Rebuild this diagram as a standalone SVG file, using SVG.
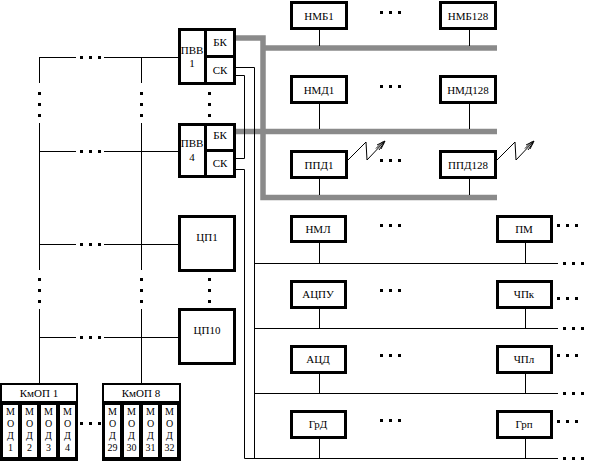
<svg xmlns="http://www.w3.org/2000/svg" width="590" height="468" viewBox="0 0 590 468">
<style>
.box{fill:#fff;stroke:#000;stroke-width:3}
.ln{stroke:#000;stroke-width:1;fill:none}
.bus{stroke:#8a8a8a;stroke-width:5.5;fill:none}
text{font-family:"Liberation Serif",serif;font-size:11px;fill:#000;text-anchor:middle}
.sm{font-size:10px}
</style>
<defs>
<rect id="d" width="3" height="3" fill="#000"/>
</defs>
<rect width="590" height="468" fill="#fff"/>

<g id="connectors">
<!-- gray buses -->
<path class="bus" d="M236,38 H263 V197.5 H497"/>
<path class="bus" d="M263,48 H497"/>
<path class="bus" d="M236,131.5 H497"/>
<!-- left lines -->
<path class="ln" d="M39.5,57 V83 M39.5,123 V270 M39.5,309 V383"/>
<path class="ln" d="M141.5,57 V83 M141.5,123 V270 M141.5,309 V383"/>
<path class="ln" d="M39.5,57.5 H76 M104,57.5 H178"/>
<path class="ln" d="M39.5,151.5 H76 M104,151.5 H178"/>
<path class="ln" d="M39.5,244.5 H76 M104,244.5 H178"/>
<path class="ln" d="M39.5,337.5 H76 M104,337.5 H178"/>
<!-- CK lines -->
<path class="ln" d="M236,67.5 H254.5 V458"/>
<path class="ln" d="M236,75.5 H244.5 V158.5 H236"/>
<path class="ln" d="M236,169.5 H244.5 V458.5 H558"/>
<path class="ln" d="M254.5,263.5 H558 M254.5,328.5 H558 M254.5,393.5 H558"/>
<!-- top connectors -->
<path class="ln" d="M319.5,30 V46 M469.5,30 V46 M319.5,104 V129 M469.5,104 V129 M319.5,179 V195 M469.5,179 V195"/>
<!-- lower connectors -->
<path class="ln" d="M319.5,243 V263 M525.5,243 V263 M319.5,308 V328 M525.5,308 V328 M319.5,373 V393 M525.5,373 V393 M319.5,439 V458 M525.5,439 V458"/>
<!-- radio links -->
<path class="ln" d="M348,160 L366,142 L367,160 L385,141 M385,141 L377,145 M385,141 L381,149 M383,141.5 L376,148.5 M384,143 L379,150"/>
<path class="ln" d="M497,160 L515,142 L516,160 L534,141 M534,141 L526,145 M534,141 L530,149 M532,141.5 L525,148.5 M533,143 L528,150"/>
</g>

<g id="dots">
<use href="#d" x="80" y="56"/><use href="#d" x="89" y="56"/><use href="#d" x="98" y="56"/>
<use href="#d" x="80" y="150"/><use href="#d" x="89" y="150"/><use href="#d" x="98" y="150"/>
<use href="#d" x="80" y="243"/><use href="#d" x="89" y="243"/><use href="#d" x="98" y="243"/>
<use href="#d" x="80" y="336"/><use href="#d" x="89" y="336"/><use href="#d" x="98" y="336"/>
<use href="#d" x="38" y="92"/><use href="#d" x="38" y="103"/><use href="#d" x="38" y="114"/>
<use href="#d" x="140" y="92"/><use href="#d" x="140" y="103"/><use href="#d" x="140" y="114"/>
<use href="#d" x="208" y="92"/><use href="#d" x="208" y="103"/><use href="#d" x="208" y="114"/>
<use href="#d" x="38" y="278"/><use href="#d" x="38" y="289"/><use href="#d" x="38" y="300"/>
<use href="#d" x="140" y="278"/><use href="#d" x="140" y="289"/><use href="#d" x="140" y="300"/>
<use href="#d" x="208" y="278"/><use href="#d" x="208" y="289"/><use href="#d" x="208" y="300"/>
<use href="#d" x="80" y="422"/><use href="#d" x="89" y="422"/><use href="#d" x="98" y="422"/>
<use href="#d" x="380" y="11"/><use href="#d" x="389" y="11"/><use href="#d" x="398" y="11"/>
<use href="#d" x="380" y="85"/><use href="#d" x="389" y="85"/><use href="#d" x="398" y="85"/>
<use href="#d" x="380" y="159"/><use href="#d" x="389" y="159"/><use href="#d" x="398" y="159"/>
<use href="#d" x="380" y="224"/><use href="#d" x="389" y="224"/><use href="#d" x="398" y="224"/>
<use href="#d" x="380" y="289"/><use href="#d" x="389" y="289"/><use href="#d" x="398" y="289"/>
<use href="#d" x="380" y="354"/><use href="#d" x="389" y="354"/><use href="#d" x="398" y="354"/>
<use href="#d" x="380" y="419"/><use href="#d" x="389" y="419"/><use href="#d" x="398" y="419"/>
<use href="#d" x="557" y="224"/><use href="#d" x="566" y="224"/><use href="#d" x="575" y="224"/>
<use href="#d" x="557" y="297"/><use href="#d" x="566" y="297"/><use href="#d" x="575" y="297"/>
<use href="#d" x="557" y="354"/><use href="#d" x="566" y="354"/><use href="#d" x="575" y="354"/>
<use href="#d" x="557" y="420"/><use href="#d" x="566" y="420"/><use href="#d" x="575" y="420"/>
<use href="#d" x="563" y="262"/><use href="#d" x="572" y="262"/><use href="#d" x="581" y="262"/>
<use href="#d" x="563" y="327"/><use href="#d" x="572" y="327"/><use href="#d" x="581" y="327"/>
<use href="#d" x="563" y="392"/><use href="#d" x="572" y="392"/><use href="#d" x="581" y="392"/>
<use href="#d" x="563" y="457"/><use href="#d" x="572" y="457"/><use href="#d" x="581" y="457"/>
</g>

<g id="pvv1">
<rect class="box" x="179.5" y="29.5" width="26" height="54"/>
<rect class="box" x="205.5" y="29.5" width="29" height="27"/>
<rect class="box" x="205.5" y="56.5" width="29" height="27"/>
<text x="192" y="54">ПВВ</text><text x="192" y="67">1</text>
<text x="220" y="46">БК</text><text x="220" y="74">СК</text>
</g>
<g id="pvv4">
<rect class="box" x="179.5" y="124.5" width="26" height="52"/>
<rect class="box" x="205.5" y="124.5" width="29" height="26"/>
<rect class="box" x="205.5" y="150.5" width="29" height="26"/>
<text x="192" y="147">ПВВ</text><text x="192" y="161">4</text>
<text x="220" y="139">БК</text><text x="220" y="167">СК</text>
</g>
<g id="cp1"><rect class="box" x="179.5" y="216.5" width="55" height="54"/><text x="207" y="241">ЦП1</text></g>
<g id="cp10"><rect class="box" x="179.5" y="309.5" width="55" height="54"/><text x="207" y="334">ЦП10</text></g>

<g id="nmb1"><rect class="box" x="291.5" y="2.5" width="55" height="26"/><text x="319" y="20">НМБ1</text></g>
<g id="nmb128"><rect class="box" x="440.5" y="2.5" width="55" height="26"/><text x="468" y="20">НМБ128</text></g>
<g id="nmd1"><rect class="box" x="291.5" y="76.5" width="55" height="26"/><text x="319" y="94">НМД1</text></g>
<g id="nmd128"><rect class="box" x="440.5" y="76.5" width="55" height="26"/><text x="468" y="94">НМД128</text></g>
<g id="ppd1"><rect class="box" x="291.5" y="151.5" width="55" height="26"/><text x="319" y="169">ППД1</text></g>
<g id="ppd128"><rect class="box" x="440.5" y="151.5" width="55" height="26"/><text x="468" y="169">ППД128</text></g>

<g id="nml"><rect class="box" x="291.5" y="216.5" width="54" height="25"/><text x="318" y="233">НМЛ</text></g>
<g id="pm"><rect class="box" x="497.5" y="216.5" width="54" height="25"/><text x="524" y="233">ПМ</text></g>
<g id="acpu"><rect class="box" x="291.5" y="281.5" width="54" height="26"/><text x="318" y="298">АЦПУ</text></g>
<g id="chpk"><rect class="box" x="497.5" y="281.5" width="54" height="26"/><text x="524" y="298">ЧПк</text></g>
<g id="acd"><rect class="box" x="291.5" y="346.5" width="54" height="26"/><text x="318" y="363">АЦД</text></g>
<g id="chpl"><rect class="box" x="497.5" y="346.5" width="54" height="26"/><text x="524" y="363">ЧПл</text></g>
<g id="grd"><rect class="box" x="291.5" y="411.5" width="54" height="26"/><text x="318" y="428">ГрД</text></g>
<g id="grp"><rect class="box" x="497.5" y="411.5" width="54" height="26"/><text x="524" y="428">Грп</text></g>

<g id="kmop1">
<rect x="0" y="383" width="78" height="78" fill="#000"/>
<rect x="2" y="385" width="74" height="16" fill="#fff"/>
<rect x="3" y="405" width="15" height="52" fill="#fff"/>
<rect x="22" y="405" width="15" height="52" fill="#fff"/>
<rect x="41" y="405" width="15" height="52" fill="#fff"/>
<rect x="60" y="405" width="15" height="52" fill="#fff"/>
<text x="39" y="397">КмОП 1</text>
<text class="sm" x="10.5" y="415">М</text><text class="sm" x="10.5" y="427">О</text><text class="sm" x="10.5" y="439">Д</text><text class="sm" x="10.5" y="451">1</text>
<text class="sm" x="29.5" y="415">М</text><text class="sm" x="29.5" y="427">О</text><text class="sm" x="29.5" y="439">Д</text><text class="sm" x="29.5" y="451">2</text>
<text class="sm" x="48.5" y="415">М</text><text class="sm" x="48.5" y="427">О</text><text class="sm" x="48.5" y="439">Д</text><text class="sm" x="48.5" y="451">3</text>
<text class="sm" x="67.5" y="415">М</text><text class="sm" x="67.5" y="427">О</text><text class="sm" x="67.5" y="439">Д</text><text class="sm" x="67.5" y="451">4</text>
</g>
<g id="kmop8">
<rect x="102" y="383" width="79" height="78" fill="#000"/>
<rect x="104" y="385" width="75" height="16" fill="#fff"/>
<rect x="105" y="405" width="15" height="52" fill="#fff"/>
<rect x="124" y="405" width="15" height="52" fill="#fff"/>
<rect x="143" y="405" width="15" height="52" fill="#fff"/>
<rect x="162" y="405" width="15" height="52" fill="#fff"/>
<text x="141" y="397">КмОП 8</text>
<text class="sm" x="112.5" y="415">М</text><text class="sm" x="112.5" y="427">О</text><text class="sm" x="112.5" y="439">Д</text><text class="sm" x="112.5" y="451">29</text>
<text class="sm" x="131.5" y="415">М</text><text class="sm" x="131.5" y="427">О</text><text class="sm" x="131.5" y="439">Д</text><text class="sm" x="131.5" y="451">30</text>
<text class="sm" x="150.5" y="415">М</text><text class="sm" x="150.5" y="427">О</text><text class="sm" x="150.5" y="439">Д</text><text class="sm" x="150.5" y="451">31</text>
<text class="sm" x="169.5" y="415">М</text><text class="sm" x="169.5" y="427">О</text><text class="sm" x="169.5" y="439">Д</text><text class="sm" x="169.5" y="451">32</text>
</g>
</svg>
